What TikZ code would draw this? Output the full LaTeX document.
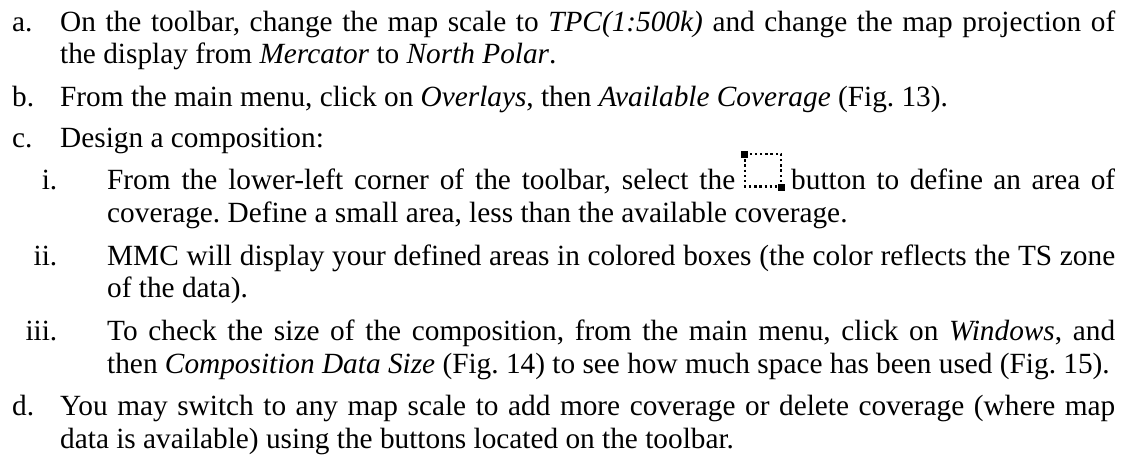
\documentclass[tikz,border=0pt]{standalone}
\usepackage{fontspec}
\setmainfont{Liberation Serif}
\frenchspacing
\newcommand{\jl}[2]{\makebox[#1][s]{#2}}
\tikzset{
 ln/.style={anchor=base west,inner sep=0pt,font=\frenchspacing\fontsize{29.3pt}{32pt}\selectfont},
 lb/.style={anchor=base east,inner sep=0pt,font=\fontsize{29.3pt}{32pt}\selectfont},
 handle/.style={fill=black,draw=none,minimum size=7pt,inner sep=0pt,anchor=center},
 dotbox/.style={line width=2.5pt,dash pattern=on 2.4pt off 2.8pt}
}
\begin{document}
\begin{tikzpicture}[x=1pt,y=-1pt]
\useasboundingbox (0,0) rectangle (1129,455);
\fill[white] (0,0) rectangle (1129,455);
\node[ln] (a0) at (12,31) {a.};
\node[ln] (a1) at (60,31) {\jl{1055pt}{On the toolbar, change the map scale to \textit{TPC(1:500k)} and change the map projection of}};
\node[ln] (a2) at (60,63.5) {the display from \textit{Mercator} to \textit{North Polar}.};
\node[ln] (b0) at (12,106) {b.};
\node[ln] (b1) at (60,106) {From the main menu, click on \textit{Overlays}, then \textit{Available Coverage} (Fig. 13).};
\node[ln] (c0) at (12,147.5) {c.};
\node[ln] (c1) at (60,147.5) {Design a composition:};
\node[lb] (i0) at (57.5,189) {i.};
\node[ln] (i1) at (107,189) {\jl{628pt}{From the lower-left corner of the toolbar, select the}};
\node[ln] (i2) at (791,189) {\jl{324pt}{button to define an area of}};
\node[ln] (i3) at (107,222) {coverage. Define a small area, less than the available coverage.};
\node[lb] (ii0) at (57.5,265) {ii.};
\node[ln] (ii1) at (107,265) {\jl{1008pt}{MMC will display your defined areas in colored boxes (the color reflects the TS zone}};
\node[ln] (ii2) at (107,297.5) {of the data).};
\node[lb] (iii0) at (57.5,340) {iii.};
\node[ln] (iii1) at (107,340) {\jl{1008pt}{To check the size of the composition, from the main menu, click on \textit{Windows}, and}};
\node[ln] (iii2) at (107,373) {then \textit{Composition Data Size} (Fig. 14) to see how much space has been used (Fig. 15).};
\node[ln] (d0) at (12,415.5) {d.};
\node[ln] (d1) at (60,415.5) {\jl{1055pt}{You may switch to any map scale to add more coverage or delete coverage (where map}};
\node[ln] (d2) at (60,448) {data is available) using the buttons located on the toolbar.};
\draw[dotbox] (745,154) rectangle (781,186.5);
\node[handle] (h1) at (744,154) {};
\node[handle] (h2) at (781.5,187) {};
\end{tikzpicture}
\end{document}
